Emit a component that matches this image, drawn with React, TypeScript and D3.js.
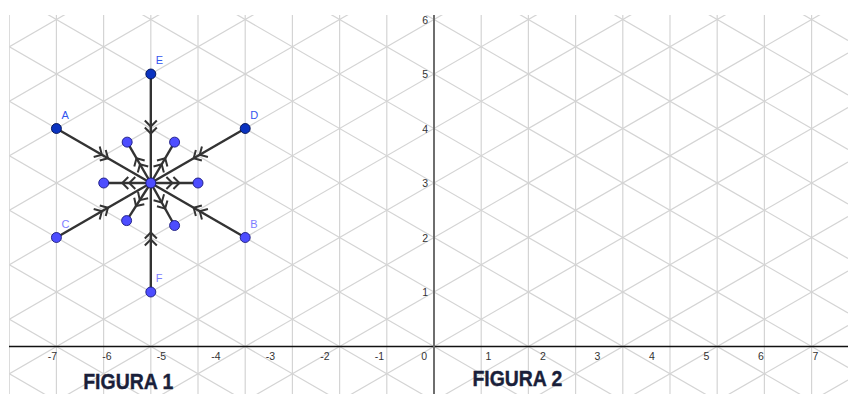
import React from "react";
import * as d3 from "d3";

// ---- data (in GeoGebra units) ----
const pointNames = ["A", "B", "C", "D", "E", "F"];
const pointX = [-6.928, -3.464, -6.928, -3.464, -5.196, -5.196];
const pointY = [4, 2, 2, 4, 5, 1];
const pointDark = [true, false, false, true, true, false];
const centerX = -5.196;
const centerY = 3;
const innerX = [-6.06, -4.33, -5.63, -4.76, -5.64, -4.76];
const innerY = [3, 3, 3.75, 3.75, 2.31, 2.22];
const xTicks = [-7, -6, -5, -4, -3, -2, -1, 0, 1, 2, 3, 4, 5, 6, 7];
const yTicks = [1, 2, 3, 4, 5, 6];
const figureLabels = ["FIGURA 1", "FIGURA 2"];
const figureLabelX = [-5.61, 1.53];

const W = 848;
const H = 394;
const VIEW = { left: 9, top: 15, right: 848, bottom: 394 };
const UNIT = 54.5;
const ORIGIN = { x: 434, y: 346.5 };

export default function App() {
  const x = d3.scaleLinear().domain([0, 1]).range([ORIGIN.x, ORIGIN.x + UNIT]);
  const y = d3.scaleLinear().domain([0, 1]).range([ORIGIN.y, ORIGIN.y - UNIT]);
  const xMin = x.invert(VIEW.left);
  const xMax = x.invert(VIEW.right);
  const s3 = Math.sqrt(3);

  // isometric grid
  const gridLines: [number, number, number, number][] = [];
  for (let k = -12; k <= 12; k++) {
    const gx = (k * s3) / 2;
    gridLines.push([x(gx), VIEW.top, x(gx), VIEW.bottom]);
  }
  for (let m = -12; m <= 14; m++) {
    for (const sgn of [1, -1]) {
      const y1 = (sgn * xMin) / s3 + m;
      const y2 = (sgn * xMax) / s3 + m;
      gridLines.push([x(xMin), y(y1), x(xMax), y(y2)]);
    }
  }

  const cx = x(centerX);
  const cy = y(centerY);

  const chevrons = (x1: number, y1: number, x2: number, y2: number, key: string) => {
    const dx = x2 - x1;
    const dy = y2 - y1;
    const len = Math.hypot(dx, dy);
    const ux = dx / len;
    const uy = dy / len;
    const nx = -uy;
    const ny = ux;
    const mx = (x1 + x2) / 2;
    const my = (y1 + y2) / 2;
    return [-2, 5].map((t, i) => {
      const tx = mx + ux * t;
      const ty = my + uy * t;
      const bx = tx - ux * 6;
      const by = ty - uy * 6;
      const d = `M${bx + nx * 6},${by + ny * 6}L${tx},${ty}L${bx - nx * 6},${by - ny * 6}`;
      return <path key={key + i} d={d} fill="none" stroke="#333" strokeWidth={2} />;
    });
  };

  return (
    <svg
      width={W}
      height={H}
      style={{ position: "absolute", left: 0, top: 0, background: "#fff" }}
      fontFamily="'Liberation Sans', Arial, sans-serif"
    >
      <defs>
        <clipPath id="view">
          <rect x={VIEW.left} y={VIEW.top} width={VIEW.right - VIEW.left} height={VIEW.bottom - VIEW.top} />
        </clipPath>
      </defs>
      <g clipPath="url(#view)">
        {gridLines.map((l, i) => (
          <line key={i} x1={l[0]} y1={l[1]} x2={l[2]} y2={l[3]} stroke="#d4d4d4" strokeWidth={1.2} />
        ))}
        {/* axes */}
        <line x1={VIEW.left} y1={y(0)} x2={VIEW.right} y2={y(0)} stroke="#111" strokeWidth={1.4} />
        <line x1={x(0)} y1={VIEW.top} x2={x(0)} y2={VIEW.bottom} stroke="#6e6e6e" strokeWidth={2} />
      </g>
      {/* tick labels */}
      {xTicks.map((t) => (
        <text
          key={"xt" + t}
          x={t === 0 ? x(0) - 7 : x(t)}
          y={y(0) + 13}
          fontSize={10.5}
          fill="#333"
          textAnchor={t === 0 ? "end" : "middle"}
        >
          {t < 0 ? "-" + Math.abs(t) : String(t)}
        </text>
      ))}
      {yTicks.map((t) => (
        <text key={"yt" + t} x={x(0) - 6} y={y(t) + 4} fontSize={10.5} fill="#333" textAnchor="end">
          {t}
        </text>
      ))}
      {/* long segments: outer point -> center */}
      {pointNames.map((n, i) => (
        <line key={"ls" + n} x1={x(pointX[i])} y1={y(pointY[i])} x2={cx} y2={cy} stroke="#333" strokeWidth={2.4} />
      ))}
      {innerX.map((v, i) => (
        <line key={"ss" + i} x1={cx} y1={cy} x2={x(v)} y2={y(innerY[i])} stroke="#333" strokeWidth={2.4} />
      ))}
      {pointNames.map((n, i) => chevrons(x(pointX[i]), y(pointY[i]), cx, cy, "lc" + n))}
      {innerX.map((v, i) => chevrons(cx, cy, x(v), y(innerY[i]), "sc" + i))}
      {/* points */}
      {innerX.map((v, i) => (
        <circle key={"ip" + i} cx={x(v)} cy={y(innerY[i])} r={5} fill="#4d4dff" stroke="#1a1a80" strokeWidth={0.9} />
      ))}
      <circle cx={cx} cy={cy} r={5} fill="#4d4dff" stroke="#1a1a80" strokeWidth={0.9} />
      {pointNames.map((n, i) => (
        <g key={"p" + n}>
          <circle
            cx={x(pointX[i])}
            cy={y(pointY[i])}
            r={5}
            fill={pointDark[i] ? "#0a32c0" : "#4d4dff"}
            stroke={pointDark[i] ? "#001050" : "#1a1a80"}
            strokeWidth={0.9}
          />
          <text
            x={x(pointX[i]) + 5}
            y={y(pointY[i]) - 10}
            fontSize={11}
            fill={pointDark[i] ? "#3355ee" : "#7d7dff"}
          >
            {n}
          </text>
        </g>
      ))}
      {/* figure labels */}
      {figureLabels.map((f, i) => (
        <text
          key={f}
          x={x(figureLabelX[i])}
          y={i === 0 ? 389 : 386}
          fontSize={22.5}
          fontWeight="bold"
          fill="#1a1f3a"
          stroke="#1a1f3a"
          strokeWidth={0.4}
          textAnchor="middle"
          textLength={90}
          lengthAdjust="spacingAndGlyphs"
        >
          {f}
        </text>
      ))}
    </svg>
  );
}
